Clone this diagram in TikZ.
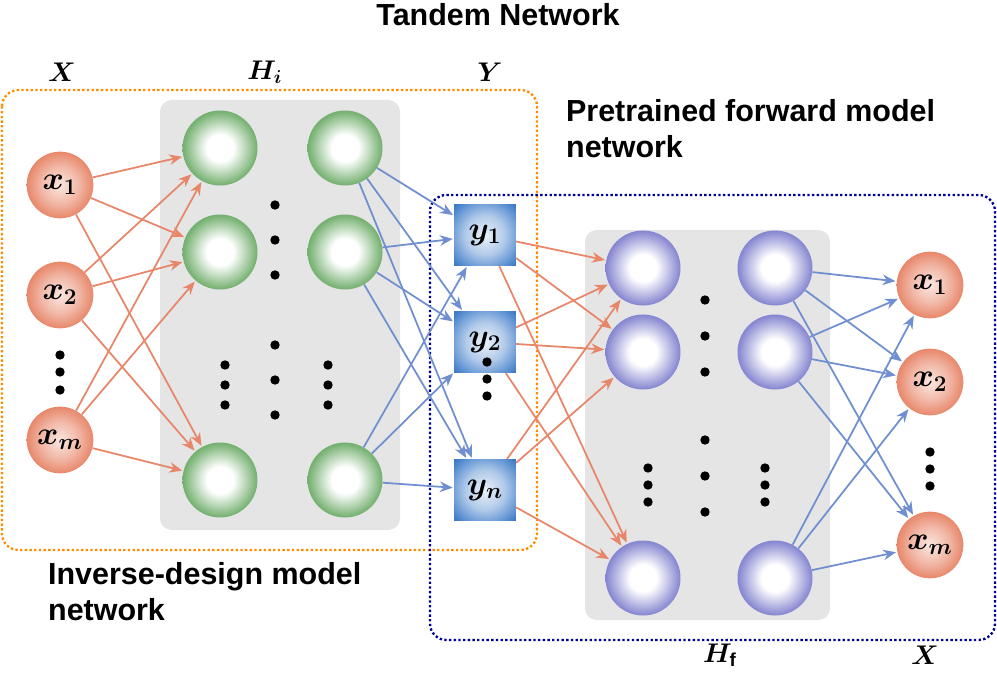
\documentclass[tikz,border=0pt]{standalone}
\usepackage{fontspec}
\setmainfont{Liberation Sans}
\usepackage{amsmath,bm}
\usetikzlibrary{arrows.meta}
\definecolor{orl}{HTML}{E8866A}
\definecolor{bll}{HTML}{6F8FD0}
\definecolor{grn}{HTML}{4E9A48}
\definecolor{pur}{HTML}{5A5AC0}
\definecolor{orn}{HTML}{E0603A}
\definecolor{sqb}{HTML}{3C7BC8}
\pgfdeclareradialshading{gball}{\pgfpoint{0bp}{0bp}}{color(0bp)=(white); color(9bp)=(white); color(24bp)=(grn!75); color(34bp)=(grn); color(50bp)=(grn)}
\pgfdeclareradialshading{pball}{\pgfpoint{0bp}{0bp}}{color(0bp)=(white); color(9bp)=(white); color(24bp)=(pur!70); color(34bp)=(pur); color(50bp)=(pur)}
\pgfdeclareradialshading{oball}{\pgfpoint{0bp}{0bp}}{color(0bp)=(orn!15); color(14bp)=(orn!45); color(34bp)=(orn); color(50bp)=(orn)}
\pgfdeclareradialshading{sq}{\pgfpoint{0bp}{0bp}}{color(0bp)=(sqb!10); color(16bp)=(sqb!40); color(34bp)=(sqb); color(50bp)=(sqb)}
\newcommand\nm[1]{\scalebox{1.6}{$\bm{#1}$}}
\begin{document}
\begin{tikzpicture}[x=0.03cm,y=-0.03cm,
 hg/.style={circle,minimum size=2.25cm,inner sep=0,shading=gball},
 hp/.style={circle,minimum size=2.25cm,inner sep=0,shading=pball},
 xn/.style={circle,minimum size=2.0cm,inner sep=0,shading=oball,font=\LARGE},
 yn/.style={rectangle,minimum size=1.85cm,inner sep=0,shading=sq,font=\LARGE},
 oa/.style={draw=orl,line width=1.5pt,-{Stealth[length=11pt,width=9pt]},shorten >=1pt},
 ba/.style={draw=bll,line width=1.5pt,-{Stealth[length=11pt,width=9pt]},shorten >=1pt},
 dt/.style={circle,fill=black,inner sep=0,minimum size=8pt},
 lab/.style={font=\bfseries\fontsize{26}{31}\selectfont,align=left,anchor=north west},
 ml/.style={font=\Large}]
\useasboundingbox (0,0) rectangle (997,676);
\node[font=\bfseries\fontsize{26}{31}\selectfont] (title) at (498,15) {Tandem Network};
\node[ml] (lx) at (62,72) {\nm{X}};
\node[ml] (lh) at (265,72) {\nm{H_i}};
\node[ml] (ly) at (490,72) {\nm{Y}};
\node[ml] (lhf) at (720,655) {\nm{H_{\mathrm{f}}}};
\node[ml] (lx2) at (925,655) {\nm{X}};
\fill[gray!20,rounded corners=10pt] (160,100) rectangle (400,530);
\fill[gray!20,rounded corners=10pt] (585,230) rectangle (830,620);
\draw[draw=orange!90!yellow,line width=2pt,dotted,rounded corners=14pt] (2,90) rectangle (537,550);
\draw[draw=blue!60!black,line width=2pt,dotted,rounded corners=14pt] (430,195) rectangle (995,640);
\node[lab] (pt) at (562,95) {Pretrained forward model\\network};
\node[lab] (iv) at (44,558) {Inverse-design model\\network};
% nodes
\foreach \n/\y in {1/148,2/252,3/480}{\node[hg] (g\n) at (220,\y) {}; \node[hg] (G\n) at (345,\y) {};}
\foreach \n/\y in {1/268,2/352,3/578}{\node[hp] (p\n) at (643,\y) {}; \node[hp] (P\n) at (775,\y) {};}
\node[xn] (x1) at (60,185) {\nm{x_1}};
\node[xn] (x2) at (60,295) {\nm{x_2}};
\node[xn] (x3) at (60,440) {\nm{x_m}};
\node[xn] (X1) at (930,285) {\nm{x_1}};
\node[xn] (X2) at (930,382) {\nm{x_2}};
\node[xn] (X3) at (930,545) {\nm{x_m}};
\node[yn] (y1) at (485,235) {\nm{y_1}};
\node[yn] (y2) at (485,342) {\nm{y_2}};
\node[yn] (y3) at (485,490) {\nm{y_n}};
% arrows
\foreach \a in {1,2,3}{\foreach \b in {1,2,3}{
 \draw[oa] (x\a) -- (g\b);
 \draw[ba] (G\a) -- (y\b);
 \draw[oa] (y\a) -- (p\b);
 \draw[ba] (P\a) -- (X\b);}}
% dots
\foreach \y in {205,240,275,345,380,415}{\node[dt] at (275,\y) {};}
\foreach \y in {365,385,405}{\node[dt] at (225,\y) {}; \node[dt] at (328,\y) {};}
\foreach \y in {355,372,390}{\node[dt] at (60,\y) {};}
\foreach \y in {362,379,396}{\node[dt] at (487,\y) {};}
\foreach \y in {300,336,372,440,476,512}{\node[dt] at (705,\y) {};}
\foreach \y in {468,485,502}{\node[dt] at (648,\y) {}; \node[dt] at (765,\y) {};}
\foreach \y in {452,469,486}{\node[dt] at (930,\y) {};}
\end{tikzpicture}
\end{document}
